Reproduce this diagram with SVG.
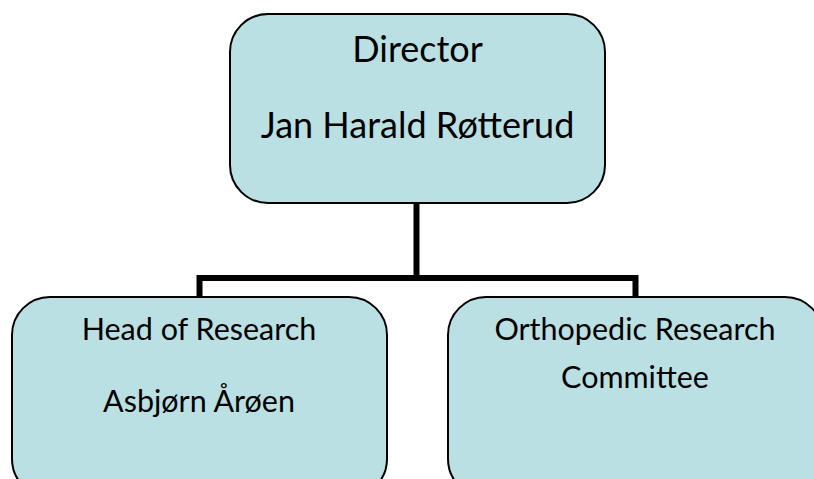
<svg xmlns="http://www.w3.org/2000/svg" width="814" height="479" viewBox="0 0 814 479">
<style>
.box{fill:#bbe0e3;stroke:#000;stroke-width:2}
.t1{font-family:Lato,"Noto Sans",sans-serif;font-size:36px;fill:#000;text-anchor:middle}
.t2{font-family:Lato,"Noto Sans",sans-serif;font-size:30.5px;fill:#000;text-anchor:middle}
.conn{fill:none;stroke:#000;stroke-width:6}
</style>
<rect width="814" height="479" fill="#fff"/>
<g id="connectors">
<path class="conn" d="M416.5 203 V278 M199.5 298 V278 H635.5 V298"/>
</g>
<g id="director">
<rect class="box" x="230" y="14" width="375" height="189" rx="38" ry="38"/>
<text class="t1" x="417.5" y="62">Director</text>
<text class="t1" x="417.5" y="138">Jan Harald Røtterud</text>
</g>
<g id="head-of-research">
<rect class="box" x="12" y="297" width="375" height="200" rx="38" ry="38"/>
<text class="t2" x="199" y="339.5">Head of Research</text>
<text class="t2" x="199" y="412">Asbjørn Årøen</text>
</g>
<g id="orthopedic-research-committee">
<rect class="box" x="448" y="297" width="375" height="200" rx="38" ry="38"/>
<text class="t2" x="635" y="339.5">Orthopedic Research</text>
<text class="t2" x="635" y="388">Committee</text>
</g>
</svg>
